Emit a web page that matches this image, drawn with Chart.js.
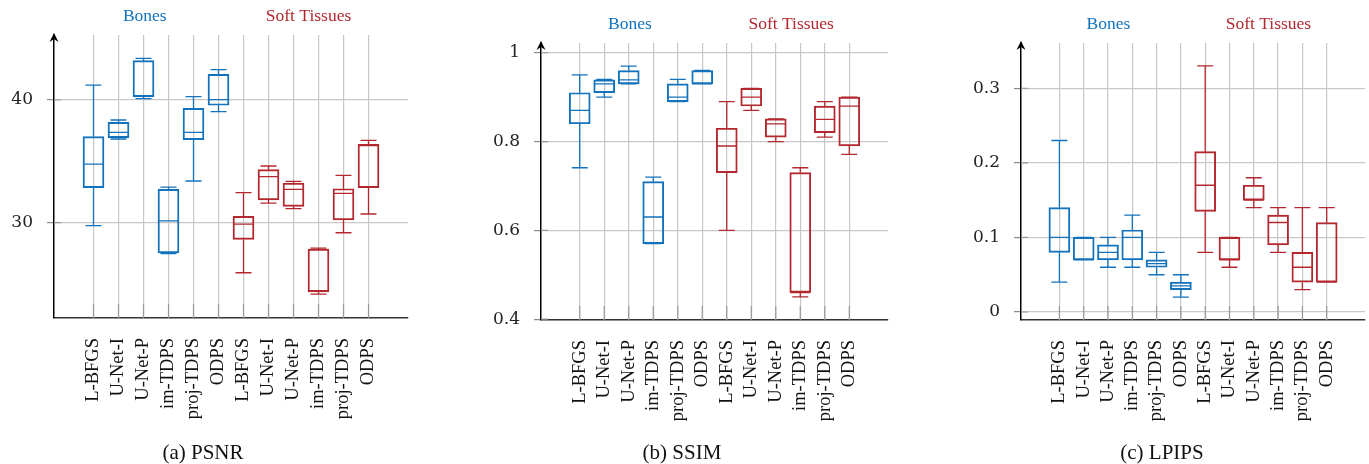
<!DOCTYPE html>
<html>
<head>
<meta charset="utf-8">
<script src="https://cdn.jsdelivr.net/npm/chart.js@4.4.0/dist/chart.umd.min.js"></script>
<style>
body { margin: 0; background: #fff; width: 1369px; height: 464px; position: relative; overflow: hidden; }
canvas { position: absolute; top: 0; }
.cap { position: absolute; top: 440px; font: 21px "Liberation Serif", serif; color: #111; transform: translateX(-50%); white-space: nowrap; }
</style>
</head>
<body>
<canvas id="psnr" width="460" height="464" style="left:0px"></canvas>
<canvas id="ssim" width="450" height="464" style="left:460px"></canvas>
<canvas id="lpips" width="459" height="464" style="left:910px"></canvas>
<div class="cap" style="left:203px">(a) PSNR</div>
<div class="cap" style="left:682px">(b) SSIM</div>
<div class="cap" style="left:1162px">(c) LPIPS</div>
<script>
var methods = ["L-BFGS", "U-Net-I", "U-Net-P", "im-TDPS", "proj-TDPS", "ODPS",
               "L-BFGS", "U-Net-I", "U-Net-P", "im-TDPS", "proj-TDPS", "ODPS"];
var groups = ["Bones", "Soft Tissues"];

// box plot stats: lower whisker, q1, median, q3, upper whisker
var psnrLow  = [29.76, 36.82, 40.11, 27.47, 33.40, 39.05, 25.92, 31.60, 31.14, 24.18, 29.18, 30.71];
var psnrQ1   = [32.85, 36.93, 40.25, 27.53, 36.77, 39.57, 28.64, 31.85, 31.33, 24.35, 30.22, 32.85];
var psnrMed  = [34.78, 37.36, 40.35, 30.14, 37.36, 40.03, 29.89, 33.75, 32.72, 24.45, 32.39, 36.28];
var psnrQ3   = [37.01, 38.18, 43.21, 32.72, 39.32, 42.09, 30.52, 34.32, 33.23, 27.85, 32.77, 36.39];
var psnrHigh = [41.22, 38.37, 43.40, 32.90, 40.27, 42.47, 32.45, 34.62, 33.37, 27.93, 33.86, 36.71];

var ssimLow  = [0.741, 0.900, 0.930, 0.570, 0.890, 0.930, 0.600, 0.870, 0.800, 0.450, 0.810, 0.771];
var ssimQ1   = [0.840, 0.910, 0.930, 0.570, 0.890, 0.930, 0.730, 0.880, 0.810, 0.460, 0.820, 0.790];
var ssimMed  = [0.870, 0.930, 0.939, 0.630, 0.900, 0.930, 0.790, 0.900, 0.840, 0.460, 0.850, 0.880];
var ssimQ3   = [0.910, 0.939, 0.960, 0.710, 0.930, 0.960, 0.830, 0.920, 0.851, 0.730, 0.880, 0.900];
var ssimHigh = [0.950, 0.940, 0.970, 0.720, 0.940, 0.960, 0.890, 0.920, 0.851, 0.741, 0.890, 0.900];

var lpipsLow  = [0.040, 0.070, 0.060, 0.060, 0.050, 0.020, 0.080, 0.060, 0.140, 0.080, 0.030, 0.040];
var lpipsQ1   = [0.080, 0.070, 0.070, 0.070, 0.060, 0.030, 0.135, 0.070, 0.150, 0.090, 0.040, 0.040];
var lpipsMed  = [0.100, 0.070, 0.080, 0.100, 0.065, 0.035, 0.170, 0.070, 0.150, 0.120, 0.060, 0.040];
var lpipsQ3   = [0.140, 0.100, 0.090, 0.110, 0.070, 0.040, 0.215, 0.100, 0.170, 0.130, 0.080, 0.120];
var lpipsHigh = [0.230, 0.100, 0.100, 0.130, 0.080, 0.050, 0.330, 0.100, 0.180, 0.140, 0.140, 0.140];

var psnrTicks = [30, 40];
var ssimTicks = [0.4, 0.6, 0.8, 1];
var lpipsTicks = [0, 0.1, 0.2, 0.3];

var blue = "#1272bb";
var red = "#b3282f";

function colorOf(i) { return i < 6 ? blue : red; }

function makePanel(id, st, yTicks, box) {
  var canvas = document.getElementById(id);
  var W = canvas.width, H = canvas.height;

  var extras = {
    id: "boxExtras",
    afterDatasetsDraw: function (chart) {
      var x = chart.scales.x, y = chart.scales.y, ctx = chart.ctx;
      ctx.save();
      ctx.lineWidth = 1.3;
      for (var i = 0; i < st.low.length; i++) {
        var px = x.getPixelForValue(i);
        var cap = 8, half = 10;
        ctx.strokeStyle = colorOf(i);
        ctx.beginPath();
        ctx.moveTo(px, y.getPixelForValue(st.q3[i]));
        ctx.lineTo(px, y.getPixelForValue(st.high[i]));
        ctx.moveTo(px, y.getPixelForValue(st.q1[i]));
        ctx.lineTo(px, y.getPixelForValue(st.low[i]));
        ctx.moveTo(px - cap, y.getPixelForValue(st.high[i]));
        ctx.lineTo(px + cap, y.getPixelForValue(st.high[i]));
        ctx.moveTo(px - cap, y.getPixelForValue(st.low[i]));
        ctx.lineTo(px + cap, y.getPixelForValue(st.low[i]));
        ctx.moveTo(px - half, y.getPixelForValue(st.med[i]));
        ctx.lineTo(px + half, y.getPixelForValue(st.med[i]));
        ctx.stroke();
      }
      ctx.restore();
    },
    afterDraw: function (chart) {
      var x = chart.scales.x, y = chart.scales.y, ctx = chart.ctx, a = chart.chartArea;
      ctx.save();
      // inner tick marks
      ctx.strokeStyle = "#999";
      ctx.lineWidth = 1.2;
      ctx.beginPath();
      yTicks.forEach(function (v) {
        var py = y.getPixelForValue(v);
        ctx.moveTo(a.left, py); ctx.lineTo(a.left + 7, py);
      });
      for (var i = 0; i < methods.length; i++) {
        var px = x.getPixelForValue(i);
        ctx.moveTo(px, a.bottom); ctx.lineTo(px, a.bottom - 14);
      }
      ctx.stroke();
      // arrow on y axis
      ctx.fillStyle = "#000";
      ctx.beginPath();
      ctx.moveTo(a.left, a.top - 2);
      ctx.lineTo(a.left - 4.5, a.top + 7);
      ctx.lineTo(a.left, a.top + 4);
      ctx.lineTo(a.left + 4.5, a.top + 7);
      ctx.closePath();
      ctx.fill();
      // group titles
      ctx.font = '17.5px "Liberation Serif", serif';
      ctx.textAlign = "center";
      ctx.textBaseline = "middle";
      groups.forEach(function (g, k) {
        ctx.fillStyle = k === 0 ? blue : red;
        ctx.fillText(g, x.getPixelForValue(box.titleX[k]), a.top - 19);
      });
      ctx.restore();
    }
  };

  new Chart(canvas, {
    type: "bar",
    data: {
      datasets: [{
        data: methods.map(function (m, i) { return { x: i, y: [st.q1[i], st.q3[i]] }; }),
        backgroundColor: "rgba(0,0,0,0)",
        borderColor: methods.map(function (m, i) { return colorOf(i); }),
        borderWidth: 1.3,
        borderSkipped: false,
        barThickness: 21
      }]
    },
    options: {
      responsive: false,
      animation: false,
      layout: { padding: { left: 0, right: W - box.right, top: box.top, bottom: 0 } },
      plugins: { legend: { display: false }, tooltip: { enabled: false } },
      scales: {
        x: {
          type: "linear",
          offset: false,
          min: -1.58,
          max: 12.58,
          afterBuildTicks: function (s) { s.ticks = methods.map(function (m, i) { return { value: i }; }); },
          afterFit: function (s) { s.height = H - box.bottom; },
          ticks: {
            minRotation: 90,
            maxRotation: 90,
            padding: 20,
            color: "#111",
            font: { family: "Liberation Serif", size: 18.5 },
            callback: function (v) { return methods[v]; }
          },
          grid: { color: "#c8c8c8", lineWidth: 1.2, drawTicks: false, offset: false },
          border: { color: "#333", width: 1.6 }
        },
        y: {
          min: box.ymin,
          max: box.ymax,
          afterBuildTicks: function (s) { s.ticks = yTicks.map(function (v) { return { value: v }; }); },
          afterFit: function (s) { s.width = box.left; },
          ticks: {
            padding: 14,
            color: "#222",
            font: { family: "DejaVu Serif", size: 17 },
            callback: function (v) { return String(v); }
          },
          grid: { color: "#c8c8c8", lineWidth: 1.2, tickLength: 7, tickColor: "#8c8c8c" },
          border: { color: "#000", width: 1.5 }
        }
      }
    },
    plugins: [extras]
  });
}

makePanel("psnr",
  { low: psnrLow, q1: psnrQ1, med: psnrMed, q3: psnrQ3, high: psnrHigh }, psnrTicks,
  { left: 54, right: 408, top: 35, bottom: 318, ymin: 22.23, ymax: 45.3, titleX: [2.05, 8.6] });
makePanel("ssim",
  { low: ssimLow, q1: ssimQ1, med: ssimMed, q3: ssimQ3, high: ssimHigh }, ssimTicks,
  { left: 81, right: 428, top: 43, bottom: 320, ymin: 0.398, ymax: 1.022, titleX: [2.05, 8.63] });
makePanel("lpips",
  { low: lpipsLow, q1: lpipsQ1, med: lpipsMed, q3: lpipsQ3, high: lpipsHigh }, lpipsTicks,
  { left: 111, right: 458, top: 43, bottom: 320, ymin: -0.0107, ymax: 0.3607, titleX: [2.02, 8.6] });
</script>
</body>
</html>
